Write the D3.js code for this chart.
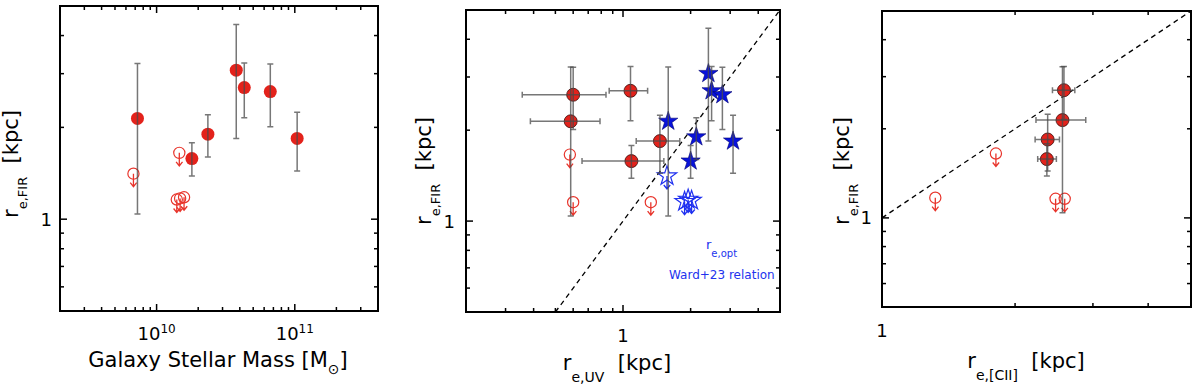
<!DOCTYPE html>
<html>
  <head>
    <script src="https://d3js.org/d3.v7.min.js"></script>
    <style>
      body { margin: 0; background: #fff; }
      svg text { font-family: "DejaVu Sans", sans-serif; fill: #000; }
      .frame { fill: none; stroke: #000; stroke-width: 2; }
      .tick-line { stroke: #000; stroke-width: 1.5; }
      .err { stroke: #4a4a4a; stroke-opacity: 0.75; stroke-width: 1.5; fill: none; }
    </style>
  </head>
  <body>
    <svg width="1200" height="386"></svg>
    <script>
      // galaxies with a measured FIR size (same order in every panel)
      const mass     = [7.27e9, 1.80e10, 2.35e10, 3.77e10, 4.31e10, 6.65e10, 1.04e11];
      const reFIR    = [2.14, 1.58, 1.90, 3.08, 2.70, 2.62, 1.84];
      const reFIRlo  = [1.04, 1.385, 1.60, 1.84, 2.15, 2.01, 1.44];
      const reFIRhi  = [3.24, 1.78, 2.20, 4.35, 3.25, 3.23, 2.24];
      const reOpt    = [1.59, 2.00, 2.12, 2.40, 2.48, 2.77, 3.09];
      const reUV     = [0.585, 1.09, null, null, 1.08, 0.60, 1.46];
      const reUVlo   = [0.387, 0.657, null, null, 0.868, 0.356, 1.145];
      const reUVhi   = [0.79, 1.52, null, null, 1.287, 0.84, 1.79];
      const reCII    = [2.56, 2.36, null, null, 2.58, null, 2.37];
      const reCIIlo  = [2.23, 2.25, null, null, 2.43, null, 2.22];
      const reCIIhi  = [2.89, 2.48, null, null, 2.73, null, 2.52];

      // FIR upper limits
      const ulMass   = [6.8e9, 1.46e10, 1.40e10, 1.48e10, 1.58e10];
      const ulFIR    = [1.41, 1.65, 1.16, 1.17, 1.18];
      const ulUVx    = [0.58, 0.60, 1.33];
      const ulUVy    = [1.66, 1.155, 1.155];
      const ulOptx   = [1.57, 1.88, 1.95, 2.02];
      const ulOpty   = [1.41, 1.16, 1.18, 1.17];
      const ulCIIx   = [1.32, 1.81, 2.47, 2.59];
      const ulCIIy   = [1.17, 1.65, 1.16, 1.16];

      const RED = "#e3221b";
      const BLUE = "#0812dc";

      const svg = d3.select("svg");

      function isMajor(v) {
        const l = Math.log10(v);
        return Math.abs(l - Math.round(l)) < 1e-6;
      }

      function logPanel(props) {
        const b = props.box;
        const x = d3.scaleLog().domain(props.xDomain).range([b.x0, b.x1]);
        const y = d3.scaleLog().domain(props.yDomain).range([b.y1, b.y0]);
        const g = svg.append("g");

        const xt = x.ticks().filter(v => v > props.xDomain[0] * 1.0001 && v < props.xDomain[1] * 0.9999);
        const yt = y.ticks().filter(v => v > props.yDomain[0] * 1.0001 && v < props.yDomain[1] * 0.9999);
        const len = v => isMajor(v) ? 7 : 4;

        g.selectAll(".xtb").data(xt).join("line").attr("class", "tick-line")
          .attr("x1", d => x(d)).attr("x2", d => x(d))
          .attr("y1", b.y1).attr("y2", d => b.y1 - len(d));
        g.selectAll(".xtt").data(xt).join("line").attr("class", "tick-line")
          .attr("x1", d => x(d)).attr("x2", d => x(d))
          .attr("y1", b.y0).attr("y2", d => b.y0 + len(d));
        g.selectAll(".ytl").data(yt).join("line").attr("class", "tick-line")
          .attr("y1", d => y(d)).attr("y2", d => y(d))
          .attr("x1", b.x0).attr("x2", d => b.x0 + len(d));
        g.selectAll(".ytr").data(yt).join("line").attr("class", "tick-line")
          .attr("y1", d => y(d)).attr("y2", d => y(d))
          .attr("x1", b.x1).attr("x2", d => b.x1 - len(d));

        g.append("rect").attr("class", "frame")
          .attr("x", b.x0).attr("y", b.y0)
          .attr("width", b.x1 - b.x0).attr("height", b.y1 - b.y0);

        // tick labels at powers of ten only
        x.ticks().filter(isMajor).forEach(v => {
          const t = g.append("text").attr("x", x(v)).attr("y", props.xLabY)
            .attr("text-anchor", "middle").style("font-size", "18px");
          if (props.sciX) {
            t.append("tspan").text("10");
            t.append("tspan").attr("dy", -7).style("font-size", "12px")
              .text(Math.round(Math.log10(v)));
          } else {
            t.text(v);
          }
        });
        y.ticks().filter(isMajor).forEach(v => {
          g.append("text").attr("x", b.x0 - props.yLabGap).attr("y", y(v) + 6.5)
            .attr("text-anchor", "end").style("font-size", "18px").text(v);
        });

        // axis titles
        const xt1 = g.append("text").attr("x", props.xTitle.x).attr("y", props.xTitle.y)
          .attr("text-anchor", "middle").style("font-size", "21px");
        props.xTitle.parts.forEach(p => {
          const s = xt1.append("tspan").text(p.t);
          if (p.sub) s.attr("dy", p.sub).style("font-size", "14px");
          if (p.up) s.attr("dy", p.up);
        });
        const yt1 = g.append("text")
          .attr("transform", `translate(${props.yTitle.x},${props.yTitle.y}) rotate(-90)`)
          .attr("text-anchor", "end").style("font-size", "21px");
        yt1.append("tspan").text("r");
        yt1.append("tspan").attr("dy", 9).style("font-size", "13px").text("e,FIR");
        yt1.append("tspan").attr("dy", -9).text("\u00a0\u00a0[kpc]");

        return { g, x, y };
      }

      function errBars(g, x, y, xs, ys, ylo, yhi, xlo, xhi) {
        const cap = 3;
        xs.forEach((xv, i) => {
          if (xv == null) return;
          const cx = x(xv), cy = y(ys[i]);
          const lo = y(ylo[i]), hi = y(yhi[i]);
          g.append("path").attr("class", "err")
            .attr("d", `M${cx},${lo}V${hi}M${cx - cap},${lo}H${cx + cap}M${cx - cap},${hi}H${cx + cap}`);
          if (xlo) {
            const l = x(xlo[i]), r = x(xhi[i]);
            g.append("path").attr("class", "err")
              .attr("d", `M${l},${cy}H${r}M${l},${cy - cap}V${cy + cap}M${r},${cy - cap}V${cy + cap}`);
          }
        });
      }

      function filledCircles(g, x, y, xs, ys, outline) {
        xs.forEach((xv, i) => {
          if (xv == null) return;
          g.append("circle").attr("cx", x(xv)).attr("cy", y(ys[i])).attr("r", 6.5)
            .attr("fill", RED)
            .attr("stroke", outline ? "#3a0a08" : "none").attr("stroke-width", 0.8);
        });
      }

      function arrow(g, cx, cy, color) {
        g.append("path").attr("fill", "none").attr("stroke", color).attr("stroke-width", 1.3)
          .attr("d", `M${cx},${cy}V${cy + 13}M${cx - 3.2},${cy + 9}L${cx},${cy + 13}L${cx + 3.2},${cy + 9}`);
      }

      function upperCircles(g, x, y, xs, ys) {
        xs.forEach((xv, i) => {
          const cx = x(xv), cy = y(ys[i]);
          g.append("circle").attr("cx", cx).attr("cy", cy).attr("r", 5.6)
            .attr("fill", "none").attr("stroke", "#e8342b").attr("stroke-width", 1.2);
          arrow(g, cx, cy, "#e8342b");
        });
      }

      const star = d3.symbol().type(d3.symbolStar).size(115);

      // ---- panel 1: FIR size vs stellar mass ----
      const p1 = logPanel({
        box: { x0: 60, x1: 378, y0: 6, y1: 311 },
        xDomain: [2e9, 4e11], yDomain: [0.5, 5], sciX: true,
        xLabY: 340, yLabGap: 8,
        xTitle: { x: 218, y: 367, parts: [{ t: "Galaxy Stellar Mass [M" }, { t: "\u2299", sub: 7 }, { t: "]", up: -7 }] },
        yTitle: { x: 18, y: 110 }
      });
      upperCircles(p1.g, p1.x, p1.y, ulMass, ulFIR);
      filledCircles(p1.g, p1.x, p1.y, mass, reFIR, false);
      errBars(p1.g, p1.x, p1.y, mass, reFIR, reFIRlo, reFIRhi);

      // ---- panel 2: FIR size vs UV / optical size ----
      const p2 = logPanel({
        box: { x0: 466, x1: 780, y0: 10, y1: 312 },
        xDomain: [0.2, 5], yDomain: [0.5, 5], sciX: false,
        xLabY: 342, yLabGap: 11,
        xTitle: { x: 617, y: 370, parts: [{ t: "r" }, { t: "e,UV", sub: 12 }, { t: "\u00a0\u00a0[kpc]", up: -12 }] },
        yTitle: { x: 431, y: 117 }
      });
      p2.g.append("line").attr("stroke", "#000").attr("stroke-width", 1.3)
        .attr("stroke-dasharray", "5,4")
        .attr("x1", p2.x(0.5)).attr("y1", p2.y(0.5))
        .attr("x2", p2.x(5)).attr("y2", p2.y(5));
      upperCircles(p2.g, p2.x, p2.y, ulUVx, ulUVy);
      ulOptx.forEach((xv, i) => {
        const cx = p2.x(xv), cy = p2.y(ulOpty[i]);
        p2.g.append("path").attr("d", star).attr("transform", `translate(${cx},${cy})`)
          .attr("fill", "none").attr("stroke", "#1f30f0").attr("stroke-width", 1.2);
        arrow(p2.g, cx, cy, "#1f30f0");
      });
      filledCircles(p2.g, p2.x, p2.y, reUV, reFIR, true);
      reOpt.forEach((xv, i) => {
        p2.g.append("path").attr("d", star)
          .attr("transform", `translate(${p2.x(xv)},${p2.y(reFIR[i])})`)
          .attr("fill", BLUE).attr("stroke", "#000070").attr("stroke-width", 0.6);
      });
      errBars(p2.g, p2.x, p2.y, reUV, reFIR, reFIRlo, reFIRhi, reUVlo, reUVhi);
      errBars(p2.g, p2.x, p2.y, reOpt, reFIR, reFIRlo, reFIRhi);

      const note = p2.g.append("text").attr("x", 706).attr("y", 249)
        .style("font-size", "13px").style("fill", "#2233ee");
      note.append("tspan").text("r");
      note.append("tspan").attr("dy", 8).style("font-size", "10px").text("e,opt");
      p2.g.append("text").attr("x", 669).attr("y", 279)
        .style("font-size", "12px").style("fill", "#2233ee").text("Ward+23 relation");

      // ---- panel 3: FIR size vs [CII] size ----
      const p3 = logPanel({
        box: { x0: 882, x1: 1191, y0: 11, y1: 307 },
        xDomain: [1, 5], yDomain: [0.5, 5], sciX: false,
        xLabY: 337, yLabGap: 10,
        xTitle: { x: 1026, y: 368, parts: [{ t: "r" }, { t: "e,[CII]", sub: 12 }, { t: "\u00a0\u00a0[kpc]", up: -12 }] },
        yTitle: { x: 849, y: 117 }
      });
      p3.g.append("line").attr("stroke", "#000").attr("stroke-width", 1.3)
        .attr("stroke-dasharray", "5,4")
        .attr("x1", p3.x(1)).attr("y1", p3.y(1))
        .attr("x2", p3.x(5)).attr("y2", p3.y(5));
      upperCircles(p3.g, p3.x, p3.y, ulCIIx, ulCIIy);
      filledCircles(p3.g, p3.x, p3.y, reCII, reFIR, true);
      errBars(p3.g, p3.x, p3.y, reCII, reFIR, reFIRlo, reFIRhi, reCIIlo, reCIIhi);
    </script>
  </body>
</html>
